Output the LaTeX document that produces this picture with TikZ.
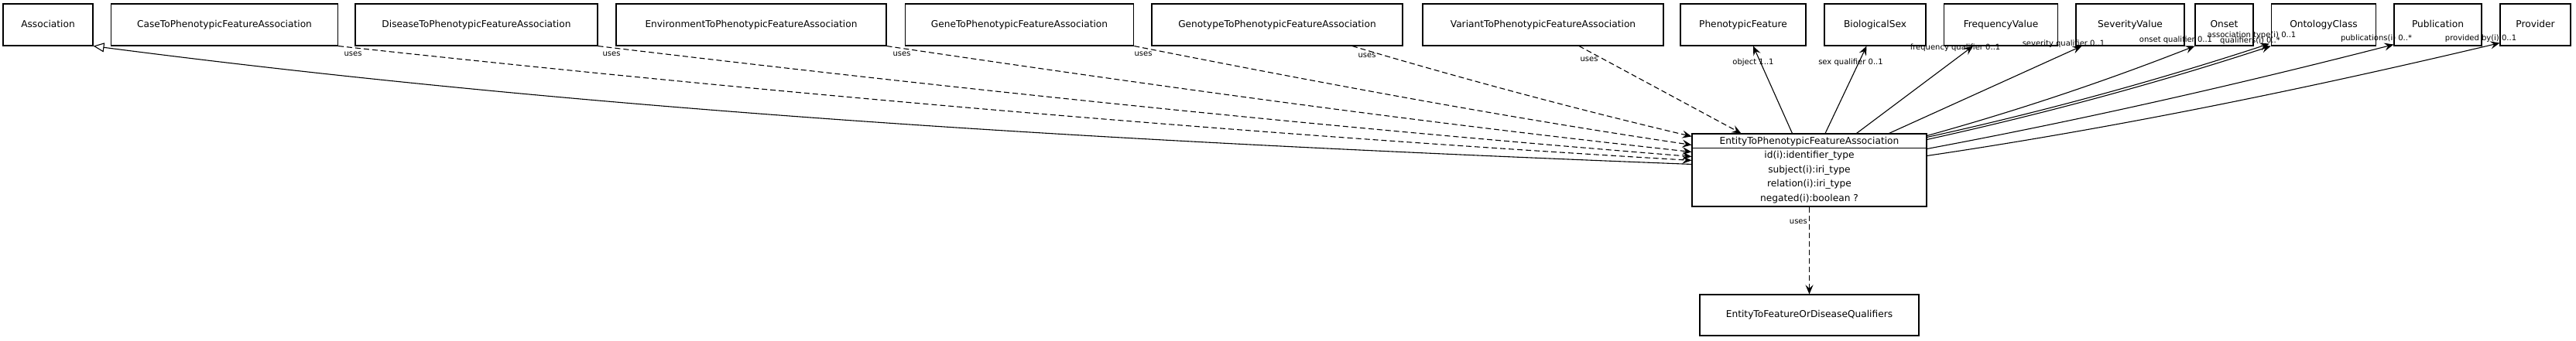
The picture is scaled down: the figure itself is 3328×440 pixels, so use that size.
\documentclass[tikz,border=0pt]{standalone}
\usepackage{fontspec}
\setmainfont{DejaVu Sans}
\usetikzlibrary{arrows.meta,calc}
\begin{document}
\begin{tikzpicture}[x=1pt,y=-1pt,
  cls/.style={draw=black, line width=1.1pt, fill=white, inner sep=0pt, minimum height=54pt,
    text height=9pt, text depth=2.5pt, font=\fontsize{12.2}{14}\selectfont},
  lbl/.style={inner sep=0pt, font=\fontsize{10}{12}\selectfont},
  attr/.style={inner sep=0pt, anchor=base, font=\fontsize{12.2}{14}\selectfont},
  usesedge/.style={line width=1.1pt, dash pattern=on 7pt off 4pt, -{Stealth[length=12pt,width=10pt,inset=4.5pt]}},
  rel/.style={line width=1.1pt, -{Stealth[length=12pt,width=10pt,inset=4.5pt]}},
  isa/.style={line width=1.1pt, -{Triangle[open,length=14pt,width=12pt,fill=white]}}]
\useasboundingbox (0,0) rectangle (3328,440);

% top row classes
\node[cls, minimum width=116pt] (assoc) at (62,32) {Association};
\node[cls, minimum width=293pt] (case) at (290,32) {CaseToPhenotypicFeatureAssociation};
\node[cls, minimum width=313pt] (dis) at (615.5,32) {DiseaseToPhenotypicFeatureAssociation};
\node[cls, minimum width=349pt] (env) at (970.5,32) {EnvironmentToPhenotypicFeatureAssociation};
\node[cls, minimum width=295.5pt] (gene) at (1317,32) {GeneToPhenotypicFeatureAssociation};
\node[cls, minimum width=324pt] (gty) at (1650,32) {GenotypeToPhenotypicFeatureAssociation};
\node[cls, minimum width=311pt] (var) at (1993.5,32) {VariantToPhenotypicFeatureAssociation};
\node[cls, minimum width=162pt] (pf) at (2252,32) {PhenotypicFeature};
\node[cls, minimum width=131pt] (sex) at (2422.5,32) {BiologicalSex};
\node[cls, minimum width=146.5pt] (freq) at (2585,32) {FrequencyValue};
\node[cls, minimum width=140pt] (sev) at (2752,32) {SeverityValue};
\node[cls, minimum width=75pt] (onset) at (2873.5,32) {Onset};
\node[cls, minimum width=135.5pt] (ont) at (3002,32) {OntologyClass};
\node[cls, minimum width=113pt] (pub) at (3149.5,32) {Publication};
\node[cls, minimum width=91pt] (prov) at (3275.5,32) {Provider};

% central class
\node[draw=black, line width=1.1pt, fill=white, minimum width=303pt, minimum height=94pt, inner sep=0pt] (ent) at (2337.5,220) {};
\draw[line width=1.1pt] ($(ent.north west)+(0,19)$) -- ($(ent.north east)+(0,19)$);
\node[attr] (entT) at (2337.5,186.5) {EntityToPhenotypicFeatureAssociation};
\node[attr] (a1) at (2337.5,204.5) {id(i):identifier\_type};
\node[attr] (a2) at (2337.5,223) {subject(i):iri\_type};
\node[attr] (a3) at (2337.5,241.5) {relation(i):iri\_type};
\node[attr] (a4) at (2337.5,260) {negated(i):boolean ?};

% bottom class
\node[cls, minimum width=283pt, minimum height=53pt] (qual) at (2337.5,407.5) {EntityToFeatureOrDiseaseQualifiers};

% is-a
\draw[isa] ($(ent.north west)+(0,40)$) .. controls (1486,185) and (800,148) .. (assoc.south east);

% uses edges
\draw[usesedge] (case.south east) .. controls (1019,123) and (1603,173) .. ($(ent.north west)+(0,35)$);
\draw[usesedge] (dis.south east) .. controls (1243,116) and (1715,165) .. ($(ent.north west)+(0,30)$);
\draw[usesedge] (env.south east) .. controls (1492,111) and (1839,159) .. ($(ent.north west)+(0,24)$);
\draw[usesedge] (gene.south east) .. controls (1705,107) and (1946,152) .. ($(ent.north west)+(0,15)$);
\draw[usesedge] ($(gty.south)+(97,0)$) .. controls (1893,103) and (2040,142) .. ($(ent.north west)+(0,4)$);
\draw[usesedge] ($(var.south)+(46.5,0)$) -- ($(ent.north west)+(64,0)$);
\draw[usesedge] (ent.south) -- (qual.north);

% slot edges
\draw[rel] ($(ent.north west)+(130,0)$) -- ($(pf.south)+(13,0)$);
\draw[rel] ($(ent.north west)+(172.6,0)$) -- ($(sex.south)+(-11,0)$);
\draw[rel] ($(ent.north west)+(213,0)$) -- ($(freq.south)+(-36,0)$);
\draw[rel] ($(ent.north west)+(255,0)$) -- ($(sev.south west)+(8,0)$);
\draw[rel] ($(ent.north east)+(0,3)$) .. controls (2605,143.5) and (2720,105) .. (onset.south west);
\draw[rel] ($(ent.north east)+(0,5)$) .. controls (2637,145) and (2784,105) .. ($(ont.south west)+(-2,-3)$);
\draw[rel] ($(ent.north east)+(0,8)$) .. controls (2637,148) and (2786,108) .. (ont.south west);
\draw[rel] ($(ent.north east)+(0,20)$) .. controls (2690,155) and (2892,109) .. ($(pub.south west)+(0,-2)$);
\draw[rel] ($(ent.north east)+(0,29)$) .. controls (2736,165) and (2983,114) .. ($(prov.south west)+(0,-4)$);

% labels
\node[lbl] (u1) at (456,70) {uses};
\node[lbl] (u2) at (790,70) {uses};
\node[lbl] (u3) at (1165,70) {uses};
\node[lbl] (u4) at (1477,70) {uses};
\node[lbl] (u5) at (1766,72) {uses};
\node[lbl] (u6) at (2053,77) {uses};
\node[lbl, anchor=east] (u7) at (2335,287) {uses};
\node[lbl] (s1) at (2265,81) {object 1..1};
\node[lbl] (s2) at (2391,81) {sex qualifier 0..1};
\node[lbl] (s3) at (2526,62) {frequency qualifier 0..1};
\node[lbl] (s4) at (2666,57) {severity qualifier 0..1};
\node[lbl] (s5) at (2811,52) {onset qualifier 0..1};
\node[lbl] (s6) at (2909,46) {association type(i) 0..1};
\node[lbl] (s7) at (2907,53) {qualifiers(i) 0..*};
\node[lbl] (s8) at (3070,50) {publications(i) 0..*};
\node[lbl] (s9) at (3205,50) {provided by(i) 0..1};
\end{tikzpicture}
\end{document}
